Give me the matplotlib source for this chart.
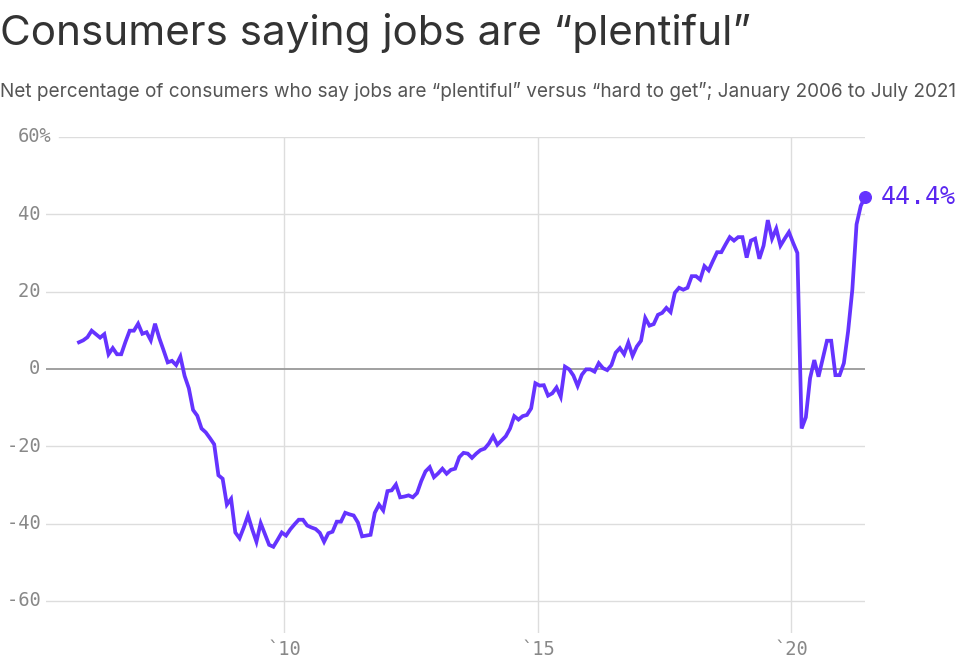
import matplotlib
matplotlib.use("Agg")
import matplotlib.pyplot as plt
import matplotlib.transforms as mtransforms
import numpy as np

# Net % of consumers saying jobs are "plentiful" minus "hard to get"
# monthly, Jan 2006 .. Jul 2021
start_year = 2006
net_pct = [
    6.9, 7.4, 8.2, 9.9, 9.0, 8.1, 9.0, 3.8, 5.4, 3.8, 3.8, 7.0,            # 2006
    9.9, 9.9, 11.7, 9.1, 9.5, 7.4, 11.7, 8.0, 4.9, 1.7, 2.1, 1.0,          # 2007
    3.2, -1.8, -5.0, -10.6, -12.1, -15.4, -16.4, -17.9, -19.5, -27.5, -28.4, -35.1,  # 2008
    -33.6, -42.3, -43.8, -41.0, -37.9, -41.5, -44.7, -39.9, -42.7, -45.5, -46.0, -44.2,  # 2009
    -42.3, -43.1, -41.5, -40.2, -39.0, -39.0, -40.5, -41.0, -41.4, -42.4, -44.7, -42.5,  # 2010
    -42.1, -39.5, -39.5, -37.2, -37.6, -37.9, -39.7, -43.3, -43.1, -42.9, -37.2, -35.1,  # 2011
    -36.6, -31.6, -31.4, -29.9, -33.2, -33.0, -32.7, -33.2, -32.1, -29.0, -26.5, -25.4,  # 2012
    -28.0, -27.0, -25.8, -27.1, -26.1, -25.8, -22.8, -21.7, -21.9, -23.0, -21.9, -21.0,  # 2013
    -20.6, -19.3, -17.4, -19.6, -18.5, -17.4, -15.4, -12.2, -13.1, -12.2, -11.9, -10.2,  # 2014
    -3.7, -4.3, -4.2, -6.9, -6.3, -4.8, -7.2, 0.6, -0.1, -1.7, -4.4, -1.5,  # 2015
    -0.1, -0.1, -0.7, 1.5, 0.2, -0.3, 1.0, 4.2, 5.4, 3.8, 6.8, 3.4,        # 2016
    5.8, 7.3, 13.2, 11.2, 11.6, 14.0, 14.5, 15.8, 14.7, 19.7, 21.0, 20.5,  # 2017
    21.0, 24.0, 24.0, 23.1, 26.6, 25.5, 27.9, 30.2, 30.2, 32.2, 34.1, 33.2,  # 2018
    34.1, 34.1, 28.8, 33.2, 33.7, 28.5, 31.9, 38.5, 33.7, 36.3, 31.9, 33.7,  # 2019
    35.4, 32.6, 30.0, -15.4, -12.5, -2.4, 2.3, -2.0, 2.6, 7.3, 7.3, -1.6,  # 2020
    -1.6, 1.5, 9.7, 20.5, 37.4, 42.2, 44.4,                                # 2021
]
tick_years = [2010, 2015, 2020]
tick_labels = ["`10", "`15", "`20"]
y_ticks = [60, 40, 20, 0, -20, -40, -60]

purple = "#6533ff"
mono = "DejaVu Sans Mono"

x = np.arange(len(net_pct))

fig = plt.figure(figsize=(9.8, 6.69), dpi=100)
W, H = 980, 669
ax = fig.add_axes([46 / W, 1 - 633 / H, (865 - 46) / W, (633 - 137) / H])

ax.set_xlim(-7.8, len(net_pct) - 1)
ax.set_ylim(-68.3, 60)

# grid
for v in y_ticks:
    if v == 0:
        continue
    xmin = (59 - 46) / (865 - 46) if v == 60 else 0
    ax.axhline(v, xmin=xmin, color="#dddddd", lw=1, zorder=1)
xt = [(yr - start_year) * 12 + 0.6 for yr in tick_years]
for t in xt:
    ax.axvline(t, color="#dddddd", lw=1, zorder=1)
ax.axhline(0, color="#999999", lw=1.3, zorder=2)

ax.plot(x, net_pct, color=purple, lw=2.7, solid_joinstyle="miter", zorder=3)
ax.scatter([x[-1]], [net_pct[-1]], s=70, color=purple, zorder=4, clip_on=False)
ax.annotate(f"{net_pct[-1]}%", xy=(x[-1], net_pct[-1]), xytext=(11, 0),
            textcoords="offset points", ha="left", va="center",
            fontsize=18, family=mono, color="#5a26f0")

# y labels (digits aligned, % hanging to the right)
for v in y_ticks:
    lab = f"{v}%" if v == 60 else f"{v} "
    ax.annotate(lab, xy=(0, v), xycoords=ax.get_yaxis_transform(),
                xytext=(4, 0), textcoords="offset points",
                ha="right", va="center", fontsize=13.5, family=mono,
                color="#888888")

ax.set_xticks(xt)
ax.set_xticklabels(tick_labels, family=mono, fontsize=13.5, color="#888888")
shift = mtransforms.ScaledTranslation(-4 / 100, 0, fig.dpi_scale_trans)
for lab in ax.get_xticklabels():
    lab.set_transform(lab.get_transform() + shift)
ax.tick_params(axis="x", length=0, pad=5)
ax.set_yticks([])
for s in ax.spines.values():
    s.set_visible(False)

fig.text(0.0, 1 - 45 / H, "Consumers saying jobs are \u201cplentiful\u201d",
         fontsize=30.4, family="Inter", color="#333333", va="baseline")
fig.text(0.0, 1 - 97 / H,
         "Net percentage of consumers who say jobs are \u201cplentiful\u201d versus "
         "\u201chard to get\u201d; January 2006 to July 2021",
         fontsize=13.65, family="Inter", color="#555555", va="baseline")

fig.savefig("out.png", dpi=100)
